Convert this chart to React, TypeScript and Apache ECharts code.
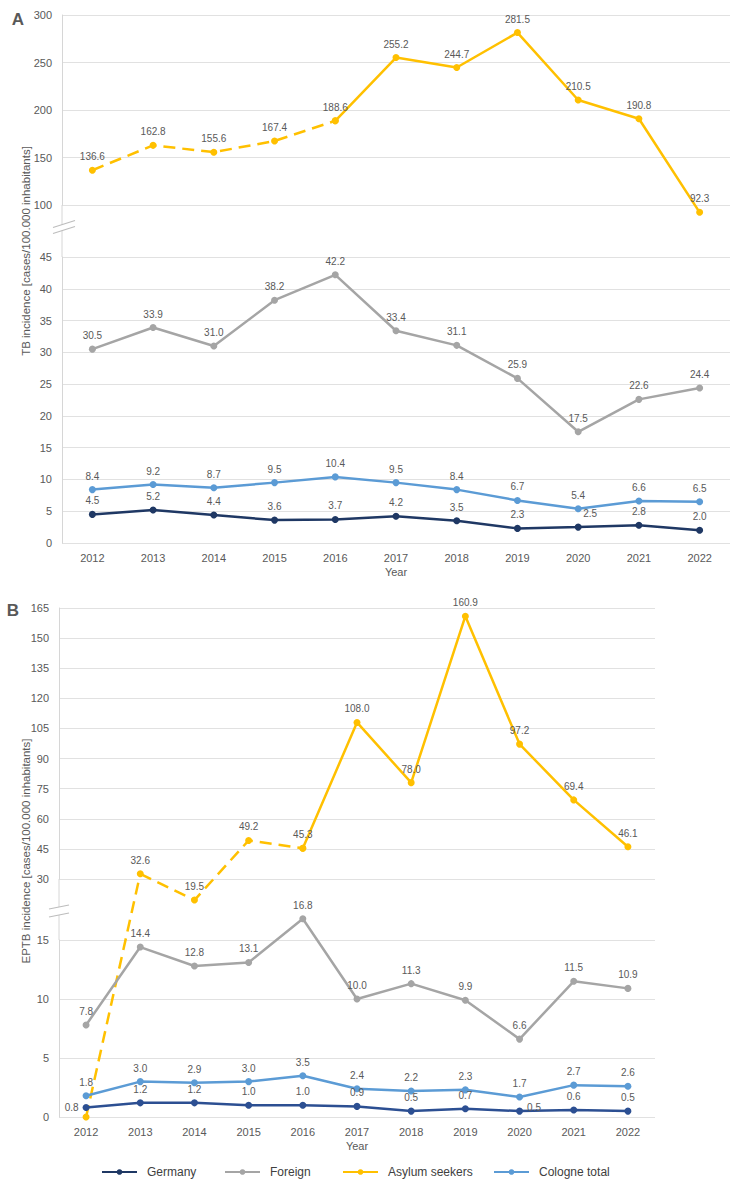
import React, { useEffect, useRef } from "react";
import * as echarts from "echarts";

// ---- data -----------------------------------------------------------
const years = ["2012", "2013", "2014", "2015", "2016", "2017", "2018", "2019", "2020", "2021", "2022"];

// Panel A: TB incidence (cases / 100.000 inhabitants)
const tbGermany = [4.5, 5.2, 4.4, 3.6, 3.7, 4.2, 3.5, 2.3, 2.5, 2.8, 2.0];
const tbForeign = [30.5, 33.9, 31.0, 38.2, 42.2, 33.4, 31.1, 25.9, 17.5, 22.6, 24.4];
const tbAsylum = [136.6, 162.8, 155.6, 167.4, 188.6, 255.2, 244.7, 281.5, 210.5, 190.8, 92.3];
const tbCologne = [8.4, 9.2, 8.7, 9.5, 10.4, 9.5, 8.4, 6.7, 5.4, 6.6, 6.5];

// Panel B: EPTB incidence (cases / 100.000 inhabitants)
const eptbGermany = [0.8, 1.2, 1.2, 1.0, 1.0, 0.9, 0.5, 0.7, 0.5, 0.6, 0.5];
const eptbForeign = [7.8, 14.4, 12.8, 13.1, 16.8, 10.0, 11.3, 9.9, 6.6, 11.5, 10.9];
const eptbAsylum = [0, 32.6, 19.5, 49.2, 45.3, 108.0, 78.0, 160.9, 97.2, 69.4, 46.1];
const eptbCologne = [1.8, 3.0, 2.9, 3.0, 3.5, 2.4, 2.2, 2.3, 1.7, 2.7, 2.6];

// asylum-seeker values up to this year index are drawn dashed
const dashedUntil = 4;

// value-axis ranges: [min, max, interval]
const tbUpperAxis = [100, 300, 50];
const tbLowerAxis = [0, 45, 5];
const eptbUpperAxis = [30, 165, 15];
const eptbLowerAxis = [0, 15, 5];

const legendNames = ["Germany", "Foreign", "Asylum seekers", "Cologne total"];
const legendLeft = [101, 224, 342, 493];

// ---- style / layout -------------------------------------------------
const FONT = "'Liberation Sans', Arial, Helvetica, sans-serif";
const TXT = "#595959";
const GRID_LINE = "#e1e1e1";
const AXIS_LINE = "#d6d6d6";
const C_GERMANY_A = "#1f3864";
const C_GERMANY_B = "#2c4f92";
const C_FOREIGN = "#a5a5a5";
const C_ASYLUM = "#ffc000";
const C_COLOGNE = "#5b9bd5";

const A = { left: 62, width: 668, upTop: 15, upH: 190, loTop: 257, loH: 286 };
const B = { left: 59, width: 596, upTop: 608, upH: 271, loTop: 940, loH: 177 };

const fmt = (p: any) => {
  const v = typeof p.value === "number" ? p.value : Number(p.value);
  return Number.isFinite(v) ? v.toFixed(1) : "";
};

function lineSeries(
  name: string,
  data: any[],
  color: string,
  axisIndex: number,
  dashed = false,
  showLabel = true
) {
  return {
    type: "line",
    name,
    data,
    xAxisIndex: axisIndex,
    yAxisIndex: axisIndex,
    color,
    symbol: "circle",
    symbolSize: 7,
    clip: false,
    connectNulls: false,
    lineStyle: { width: 2.5, color, type: dashed ? [12, 7] : "solid" },
    itemStyle: { color },
    label: {
      show: showLabel,
      position: "top",
      distance: 5,
      fontSize: 10,
      fontFamily: FONT,
      color: TXT,
      formatter: fmt,
    },
    emphasis: { disabled: true },
  };
}

const dashedPart = (vals: number[], from = 0) =>
  vals.map((v, i) => (i >= from && i <= dashedUntil ? v : "-"));
const solidPart = (vals: number[]) =>
  vals.map((v, i) => (i < dashedUntil ? "-" : i === dashedUntil ? { value: v, label: { show: false } } : v));

function breakMark(id: string, cx: number, cy: number, half: number, rise: number, gap: number) {
  const x1 = cx - half;
  const x2 = cx + half;
  const yTop1 = cy - gap / 2 + rise / 2;
  const yTop2 = cy - gap / 2 - rise / 2;
  const yBot1 = cy + gap / 2 + rise / 2;
  const yBot2 = cy + gap / 2 - rise / 2;
  const stroke = { stroke: "#bdbdbd", lineWidth: 1.2 };
  return [
    {
      id: id + "-fill",
      type: "polygon",
      z: 20,
      shape: { points: [[x1, yTop1], [x2, yTop2], [x2, yBot2], [x1, yBot1]] },
      style: { fill: "#ffffff" },
    },
    { id: id + "-l1", type: "line", z: 21, shape: { x1, y1: yTop1, x2, y2: yTop2 }, style: stroke },
    { id: id + "-l2", type: "line", z: 21, shape: { x1, y1: yBot1, x2, y2: yBot2 }, style: stroke },
  ];
}

function staticGraphics() {
  const axisGapA = {
    id: "gapA",
    type: "line",
    z: 1,
    shape: { x1: A.left, y1: A.upTop + A.upH, x2: A.left, y2: A.loTop },
    style: { stroke: AXIS_LINE, lineWidth: 1 },
  };
  const axisGapB = {
    id: "gapB",
    type: "line",
    z: 1,
    shape: { x1: B.left, y1: B.upTop + B.upH, x2: B.left, y2: B.loTop },
    style: { stroke: AXIS_LINE, lineWidth: 1 },
  };
  const titleStyle = { fill: TXT, fontSize: 11.5, fontFamily: FONT, align: "center", verticalAlign: "middle" };
  return [
    axisGapA,
    axisGapB,
    ...breakMark("brA", 64, 227, 11, 7, 6),
    ...breakMark("brB", 59, 911, 10, 4, 8),
    {
      id: "panelA",
      type: "text",
      x: 18,
      y: 19,
      style: { text: "A", fill: TXT, fontSize: 17, fontWeight: "bold", fontFamily: FONT, align: "center", verticalAlign: "middle" },
    },
    {
      id: "panelB",
      type: "text",
      x: 13,
      y: 610,
      style: { text: "B", fill: TXT, fontSize: 17, fontWeight: "bold", fontFamily: FONT, align: "center", verticalAlign: "middle" },
    },
    {
      id: "titleA",
      type: "text",
      x: 26,
      y: 251,
      rotation: Math.PI / 2,
      style: { ...titleStyle, text: "TB incidence [cases/100.000 inhabitants]" },
    },
    {
      id: "titleB",
      type: "text",
      x: 26,
      y: 851,
      rotation: Math.PI / 2,
      style: { ...titleStyle, text: "EPTB incidence [cases/100.000 inhabitants]" },
    },
  ];
}

function buildOption() {
  const grids = [
    { left: A.left, width: A.width, top: A.upTop, height: A.upH },
    { left: A.left, width: A.width, top: A.loTop, height: A.loH },
    { left: B.left, width: B.width, top: B.upTop, height: B.upH },
    { left: B.left, width: B.width, top: B.loTop, height: B.loH },
  ];
  const ranges = [tbUpperAxis, tbLowerAxis, eptbUpperAxis, eptbLowerAxis];

  const xAxis = grids.map((_, i) => {
    const bottom = i % 2 === 1;
    return {
      type: "category",
      gridIndex: i,
      data: years,
      boundaryGap: true,
      axisLine: { show: false },
      axisTick: { show: false },
      splitLine: { show: false },
      axisLabel: { show: bottom, color: TXT, fontSize: 11, fontFamily: FONT, margin: 9 },
      name: bottom ? "Year" : "",
      nameLocation: "middle",
      nameGap: 23,
      nameTextStyle: { color: TXT, fontSize: 11, fontFamily: FONT },
    };
  });

  const yAxis = ranges.map(([min, max, interval], i) => ({
    type: "value",
    gridIndex: i,
    min,
    max,
    interval,
    axisLine: { show: true, lineStyle: { color: AXIS_LINE, width: 1 } },
    axisTick: { show: false },
    splitLine: { show: true, lineStyle: { color: GRID_LINE, width: 1 } },
    axisLabel: { color: TXT, fontSize: 11, fontFamily: FONT, margin: 10 },
  }));

  // Germany labels that sit beside their point rather than above it
  const eptbGermanyData = eptbGermany.map((v, i) =>
    i === 0
      ? { value: v, label: { position: "left", distance: 4 } }
      : i === 8
      ? { value: v, label: { position: "right", distance: 4, offset: [0, -4] } }
      : v
  );
  const tbGermanyData = tbGermany.map((v, i) =>
    i === 8 ? { value: v, label: { offset: [12, 0] } } : v
  );

  const series: any[] = [
    // panel A, lower part
    lineSeries("Germany", tbGermanyData, C_GERMANY_A, 1),
    lineSeries("Foreign", tbForeign, C_FOREIGN, 1),
    // panel A, upper part
    lineSeries("Asylum seekers", solidPart(tbAsylum), C_ASYLUM, 0),
    lineSeries("Asylum seekers", dashedPart(tbAsylum), C_ASYLUM, 0, true),
    lineSeries("Cologne total", tbCologne, C_COLOGNE, 1),
    // panel B, lower part
    lineSeries("Germany", eptbGermanyData, C_GERMANY_B, 3),
    lineSeries("Foreign", eptbForeign, C_FOREIGN, 3),
    lineSeries("Cologne total", eptbCologne, C_COLOGNE, 3),
    lineSeries(
      "Asylum seekers",
      eptbAsylum.map((v, i) => (i === 0 ? v : "-")),
      C_ASYLUM,
      3,
      false,
      false
    ),
    // panel B, upper part
    lineSeries("Asylum seekers", solidPart(eptbAsylum), C_ASYLUM, 2),
    lineSeries("Asylum seekers", dashedPart(eptbAsylum, 1), C_ASYLUM, 2, true),
  ];

  const legend = legendNames.map((name, i) => ({
    data: [name],
    left: legendLeft[i],
    top: 1166,
    padding: 0,
    itemWidth: 35,
    itemHeight: 7,
    selectedMode: false,
    textStyle: { color: "#404040", fontSize: 12, fontFamily: FONT, padding: [0, 0, 0, 5] },
  }));

  return {
    animation: false,
    backgroundColor: "#ffffff",
    textStyle: { fontFamily: FONT },
    grid: grids,
    xAxis,
    yAxis,
    legend,
    series,
    graphic: { elements: staticGraphics() },
  };
}

export default function App() {
  const ref = useRef<HTMLDivElement>(null);

  useEffect(() => {
    if (!ref.current) return;
    const chart = echarts.init(ref.current, undefined, { renderer: "svg" });
    chart.setOption(buildOption() as any);

    // dashed link of the asylum-seeker line in panel B: the 2012 point lies on the
    // lower (small-value) axis while 2013 is on the upper axis
    const p0 = chart.convertToPixel({ xAxisIndex: 3, yAxisIndex: 3 } as any, [0, eptbAsylum[0]]) as number[];
    const p1 = chart.convertToPixel({ xAxisIndex: 2, yAxisIndex: 2 } as any, [1, eptbAsylum[1]]) as number[];
    if (p0 && p1) {
      chart.setOption({
        graphic: {
          elements: [
            ...staticGraphics(),
            {
              id: "asylumLinkB",
              type: "line",
              z: 2,
              shape: { x1: p0[0], y1: p0[1], x2: p1[0], y2: p1[1] },
              style: { stroke: C_ASYLUM, lineWidth: 2.5, lineDash: [12, 7] },
            },
          ],
        },
      } as any);
    }

    return () => chart.dispose();
  }, []);

  return (
    <div
      ref={ref}
      style={{ position: "absolute", left: 0, top: 0, width: 744, height: 1181, background: "#fff" }}
    />
  );
}
